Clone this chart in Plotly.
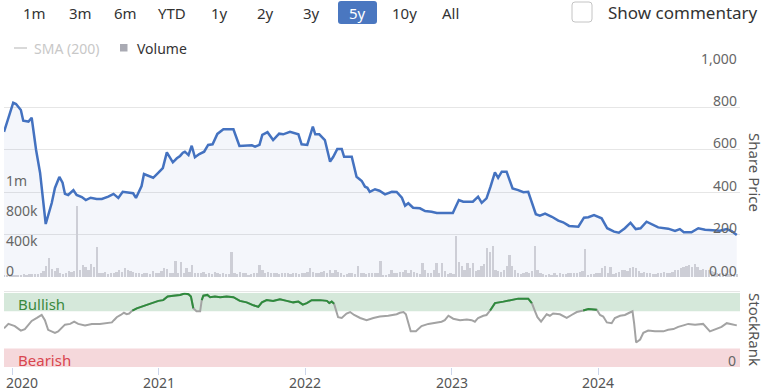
import plotly.graph_objects as go
import pandas as pd

# ---------------- data ----------------
price_dates = ["2019-12-12","2020-01-04","2020-01-11","2020-01-23","2020-01-29","2020-02-11","2020-02-19","2020-03-01","2020-03-11","2020-03-25",
"2020-04-09","2020-04-17","2020-04-28","2020-05-06","2020-05-12","2020-05-20","2020-06-02","2020-06-10","2020-06-23","2020-07-03",
"2020-07-15","2020-07-30","2020-08-12","2020-08-28","2020-09-10","2020-09-22","2020-10-03","2020-10-17","2020-10-29","2020-11-05",
"2020-11-19","2020-11-25","2020-12-06","2020-12-18","2020-12-31","2021-01-11","2021-01-21","2021-02-05","2021-02-15","2021-02-23",
"2021-03-02","2021-03-07","2021-03-16","2021-03-24","2021-04-01","2021-04-12","2021-04-24","2021-05-04","2021-05-15","2021-05-27",
"2021-06-11","2021-07-06","2021-07-21","2021-08-08","2021-08-21","2021-08-29","2021-09-09","2021-09-16","2021-09-29","2021-10-13",
"2021-10-28","2021-11-07","2021-11-24","2021-12-15","2021-12-23","2022-01-06","2022-01-20","2022-01-26","2022-02-05","2022-02-19",
"2022-03-04","2022-03-12","2022-03-22","2022-04-02","2022-04-08","2022-04-27","2022-05-09","2022-05-22","2022-05-30","2022-06-05",
"2022-06-11","2022-06-24","2022-07-05","2022-07-19","2022-08-05","2022-08-17","2022-08-30","2022-09-07","2022-09-15","2022-09-27",
"2022-10-14","2022-10-27","2022-11-12","2022-11-25","2023-01-04","2023-01-19","2023-01-30","2023-02-23","2023-03-08","2023-03-17",
"2023-03-29","2023-04-08","2023-04-19","2023-04-27","2023-05-06","2023-05-18","2023-06-02","2023-06-16","2023-06-29","2023-07-11",
"2023-07-30","2023-08-09","2023-08-22","2023-09-08","2023-09-24","2023-10-06","2023-10-21","2023-11-13","2023-11-27","2023-12-08",
"2023-12-22","2024-01-10","2024-01-24","2024-02-10","2024-02-22","2024-03-08","2024-03-22","2024-04-04","2024-04-16","2024-05-01",
"2024-05-14","2024-05-30","2024-06-24","2024-07-11","2024-07-23","2024-08-02","2024-08-21","2024-09-07","2024-09-24","2024-10-14",
"2024-10-31","2024-11-17","2024-11-29","2024-12-12"]
share_price = [685,822,816,788,737,733,751,599,491,250,
349,420,472,445,392,387,410,387,377,363,
374,368,368,379,392,373,402,400,395,373,
429,486,476,468,492,514,588,541,560,571,
586,591,575,619,565,580,591,623,626,675,
697,697,618,618,621,615,623,670,683,646,
676,673,685,673,626,623,709,673,673,646,
544,567,604,604,567,567,473,453,426,421,
402,414,407,390,402,401,374,336,348,327,
324,311,308,302,302,363,355,355,379,350,
371,426,494,468,497,497,418,410,400,402,
296,289,299,284,266,258,241,237,280,282,
292,277,230,214,209,230,256,226,230,261,
249,234,228,217,226,211,211,230,223,222,
218,226,217,198]

volume_start = "2019-12-13"   # weekly bars
volume_k = [20,15,25,20,30,25,30,35,30,40,
35,40,45,60,80,150,253,110,84,120,
50,45,60,80,70,80,947,90,160,140,
100,180,140,400,60,50,70,40,50,60,
70,90,70,120,100,80,70,60,50,40,
60,50,40,80,50,60,80,120,110,60,
60,213,50,200,60,120,70,160,60,50,
50,70,40,60,45,70,60,40,50,40,
45,330,60,40,70,50,60,30,40,50,
50,160,90,60,70,50,60,50,40,60,
50,60,40,50,60,40,50,60,70,124,
70,60,50,70,80,60,90,60,100,70,
50,30,40,50,60,40,150,60,50,40,
50,60,50,60,213,20,30,40,90,50,
60,70,70,90,60,100,70,50,40,183,
100,50,60,100,183,60,183,80,40,50,
40,551,200,150,100,190,120,190,80,100,
150,170,383,330,413,100,80,70,100,150,
293,150,90,50,40,60,70,60,80,413,
90,60,40,30,40,30,50,30,60,40,
40,60,50,60,50,70,80,369,30,40,
40,60,50,120,150,60,140,40,60,70,
100,100,80,120,140,120,80,60,70,50,
60,40,40,50,60,70,50,60,70,90,
100,120,140,150,160,130,170,140,100,110,
100,90,80,70,60,60,50,50,40,40,
30,40]

sr_dates = ["2019-12-12","2019-12-23","2020-01-08","2020-01-23","2020-02-02","2020-02-19","2020-03-03","2020-03-15","2020-03-23","2020-03-31",
"2020-04-17","2020-04-25","2020-05-12","2020-05-25","2020-06-04","2020-06-14","2020-07-01","2020-07-18","2020-08-07","2020-08-24",
"2020-09-06","2020-09-11","2020-09-18","2020-09-28","2020-10-06","2020-10-13","2020-10-19","2020-10-27","2020-11-07","2020-11-23",
"2020-12-10","2020-12-20","2020-12-31","2021-01-12","2021-01-23","2021-02-06","2021-02-23","2021-03-06","2021-03-16","2021-03-22",
"2021-03-28","2021-04-05","2021-04-14","2021-04-18","2021-04-22","2021-05-02","2021-05-09","2021-05-21","2021-06-03","2021-06-19",
"2021-07-06","2021-07-22","2021-08-08","2021-08-25","2021-09-06","2021-09-15","2021-09-27","2021-10-13","2021-10-30","2021-11-16",
"2021-12-02","2021-12-15","2021-12-26","2022-01-05","2022-01-17","2022-02-07","2022-02-24","2022-03-02","2022-03-08","2022-03-14",
"2022-03-20","2022-03-24","2022-04-02","2022-04-14","2022-04-23","2022-05-03","2022-05-18","2022-06-03","2022-06-20","2022-07-06",
"2022-07-27","2022-08-17","2022-08-25","2022-09-03","2022-09-09","2022-09-21","2022-10-04","2022-10-18","2022-11-04","2022-11-21",
"2022-12-07","2022-12-15","2022-12-24","2023-01-05","2023-01-22","2023-02-08","2023-02-20","2023-02-28","2023-03-08","2023-03-21",
"2023-03-29","2023-04-07","2023-04-19","2023-05-10","2023-05-31","2023-06-16","2023-07-11","2023-07-20","2023-07-28","2023-08-03",
"2023-08-12","2023-08-26","2023-09-03","2023-09-11","2023-09-28","2023-10-15","2023-10-27","2023-11-09","2023-11-25","2023-12-08",
"2023-12-29","2024-01-06","2024-01-14","2024-01-23","2024-02-04","2024-02-12","2024-02-25","2024-03-08","2024-03-19","2024-03-27",
"2024-03-31","2024-04-05","2024-04-15","2024-04-23","2024-05-05","2024-05-22","2024-06-12","2024-06-24","2024-07-07","2024-07-19",
"2024-08-01","2024-08-13","2024-08-30","2024-09-19","2024-10-06","2024-10-23","2024-11-04","2024-11-17","2024-11-29","2024-12-12"]
stockrank = [52,58,55,49,51,62,66,70,63,50,
46,48,57,58,61,58,56,58,58,59,
60,63,67,70,73,71,72,76,79,82,
85,87,89,90,95,96,97,99,98,95,
79,75,75,90,96,97,94,95,94,95,
94,89,87,83,81,87,90,89,91,89,
87,88,84,86,90,90,89,86,88,85,
72,67,66,72,74,70,66,63,66,68,
69,71,73,74,71,48,48,55,58,60,
61,63,69,65,63,64,63,61,66,69,
70,76,86,88,90,92,92,86,75,67,
61,71,69,72,71,66,70,74,76,78,
77,70,68,60,59,66,69,70,73,75,
59,33,37,46,49,48,48,50,51,54,
56,58,57,58,48,51,54,59,58,56]

x_range = ["2019-12-12", "2024-12-20"]
year_ticks = ["2020-01-01", "2021-01-01", "2022-01-01", "2023-01-01", "2024-01-01"]
year_labels = ["2020", "2021", "2022", "2023", "2024"]
price_tickvals = [0, 200, 400, 600, 800, 1000]
price_ticktext = ["0.00", "200", "400", "600", "800", "1,000"]
volume_tickvals = [0, 400000, 800000, 1200000]
volume_ticktext = ["0", "400k", "800k", "1m"]
range_buttons = ["1m", "3m", "6m", "YTD", "1y", "2y", "3y", "5y", "10y", "All"]
bullish_level = 75

assert len(price_dates) == len(share_price)
assert len(sr_dates) == len(stockrank)

# ---------------- geometry helpers ----------------
W_TOT, H_TOT = 770, 391
ML, MR, MT, MB = 4, 30, 65, 24
PW, PH = W_TOT - ML - MR, H_TOT - MT - MB


def px_x(px):
    return (px - ML) / PW


def px_y(py):
    return (H_TOT - MB - py) / PH


FONT = "Noto Sans"
PRICE_COLOR = "#4472c0"
TICK_COLOR = "#666666"

vol_dates = pd.date_range(volume_start, periods=len(volume_k), freq="7D")
vol_vals = [v * 1000 for v in volume_k]

fig = go.Figure()
fig.add_trace(go.Scatter(x=price_dates, y=share_price, mode="lines",
                         line=dict(color=PRICE_COLOR, width=2.5),
                         fill="tozeroy", fillcolor="rgba(70,110,190,0.06)",
                         xaxis="x", yaxis="y", hoverinfo="skip"))
fig.add_trace(go.Bar(x=vol_dates, y=vol_vals, width=4.5 * 86400000,
                     marker=dict(color="#cdced6", line=dict(width=0)),
                     xaxis="x", yaxis="y3", hoverinfo="skip"))
fig.add_trace(go.Scatter(x=sr_dates, y=stockrank, mode="lines",
                         line=dict(color="#a3a3a3", width=2),
                         xaxis="x2", yaxis="y2", hoverinfo="skip"))
fig.add_trace(go.Scatter(x=sr_dates, y=[v if v > bullish_level else None for v in stockrank],
                         mode="lines", connectgaps=False,
                         line=dict(color="#2e8b3c", width=2),
                         xaxis="x2", yaxis="y2", hoverinfo="skip"))

main_bottom = px_y(277)
rank_top = px_y(292.7)

shapes = [
    dict(type="rect", xref="paper", yref="y2", x0=0, x1=1, y0=75, y1=100,
         fillcolor="#d5e8da", line=dict(width=0), layer="below"),
    dict(type="rect", xref="paper", yref="y2", x0=0, x1=1, y0=0, y1=25,
         fillcolor="#f5d8db", line=dict(width=0), layer="below"),
    dict(type="line", xref="paper", yref="paper", x0=0, x1=1,
         y0=px_y(291.5), y1=px_y(291.5), line=dict(color="#e6e6e6", width=1)),
]


def rounded_rect(x0, y0, x1, y1, r):
    X0, X1 = px_x(x0), px_x(x1)
    Y0, Y1 = px_y(y0), px_y(y1)
    rx, ry = r / PW, r / PH
    return (f"M {X0+rx},{Y0} L {X1-rx},{Y0} Q {X1},{Y0} {X1},{Y0-ry} "
            f"L {X1},{Y1+ry} Q {X1},{Y1} {X1-rx},{Y1} L {X0+rx},{Y1} "
            f"Q {X0},{Y1} {X0},{Y1+ry} L {X0},{Y0-ry} Q {X0},{Y0} {X0+rx},{Y0} Z")


shapes.append(dict(type="path", xref="paper", yref="paper",
                   path=rounded_rect(338, 1, 377, 24, 3),
                   fillcolor="#4a77c0", line=dict(width=0)))
shapes.append(dict(type="path", xref="paper", yref="paper",
                   path=rounded_rect(572, 2, 592, 22, 3),
                   fillcolor="white", line=dict(color="#c4c4c4", width=1)))
shapes.append(dict(type="line", xref="paper", yref="paper",
                   x0=px_x(14), x1=px_x(27), y0=px_y(48), y1=px_y(48),
                   line=dict(color="#cccccc", width=1.5)))
shapes.append(dict(type="rect", xref="paper", yref="paper",
                   x0=px_x(120), x1=px_x(127.5), y0=px_y(51.5), y1=px_y(44),
                   fillcolor="#a9aab3", line=dict(width=0)))

annotations = []
btn_x = [34, 80, 126, 172, 219, 265, 311, 357, 404, 450]
for lbl, bx in zip(range_buttons, btn_x):
    annotations.append(dict(text=lbl, x=px_x(bx), y=px_y(12.5), xref="paper", yref="paper",
                            showarrow=False, xanchor="center", yanchor="middle",
                            font=dict(family=FONT, size=15,
                                      color="white" if lbl == "5y" else "#333333")))
annotations.append(dict(text="Show commentary", x=px_x(606), y=px_y(12.5), xref="paper", yref="paper",
                        showarrow=False, xanchor="left", yanchor="middle",
                        font=dict(family=FONT, size=17, color="#333333")))
annotations.append(dict(text="SMA (200)", x=px_x(32), y=px_y(48), xref="paper", yref="paper",
                        showarrow=False, xanchor="left", yanchor="middle",
                        font=dict(family=FONT, size=14, color="#c8c8c8")))
annotations.append(dict(text="Volume", x=px_x(135), y=px_y(48), xref="paper", yref="paper",
                        showarrow=False, xanchor="left", yanchor="middle",
                        font=dict(family=FONT, size=14, color="#333333")))
annotations.append(dict(text="Share Price", x=px_x(755), y=px_y(172), xref="paper", yref="paper",
                        showarrow=False, textangle=90, xanchor="center", yanchor="middle",
                        font=dict(family=FONT, size=15, color="#555555")))
annotations.append(dict(text="StockRank", x=px_x(755), y=px_y(329), xref="paper", yref="paper",
                        showarrow=False, textangle=90, xanchor="center", yanchor="middle",
                        font=dict(family=FONT, size=15, color="#555555")))
annotations.append(dict(text="Bullish", x=px_x(16), y=px_y(303.5), xref="paper", yref="paper",
                        showarrow=False, xanchor="left", yanchor="middle",
                        font=dict(family=FONT, size=15, color="#3a8a3e")))
annotations.append(dict(text="Bearish", x=px_x(16), y=px_y(360), xref="paper", yref="paper",
                        showarrow=False, xanchor="left", yanchor="middle",
                        font=dict(family=FONT, size=15, color="#d9454f")))
annotations.append(dict(text="0", x=px_x(738), y=px_y(360), xref="paper", yref="paper",
                        showarrow=False, xanchor="right", yanchor="middle",
                        font=dict(family=FONT, size=14, color=TICK_COLOR)))
# axis tick labels drawn above their gridlines (Highcharts style)
for tv, tt in zip(price_tickvals, price_ticktext):
    annotations.append(dict(text=tt, x=1, xref="paper", y=tv, yref="y",
                            xanchor="right", yanchor="middle", yshift=7, xshift=-1,
                            showarrow=False, font=dict(family=FONT, size=14, color=TICK_COLOR)))
for tv, tt in zip(volume_tickvals, volume_ticktext):
    annotations.append(dict(text=tt, x=0, xref="paper", y=tv, yref="y3",
                            xanchor="left", yanchor="middle", yshift=7, xshift=0,
                            showarrow=False, font=dict(family=FONT, size=14, color=TICK_COLOR)))
for i, (tv, tl) in enumerate(zip(year_ticks, year_labels)):
    annotations.append(dict(text=tl, x=tv, xref="x2", y=px_y(382), yref="paper",
                            showarrow=False, xanchor="center", yanchor="middle",
                            xshift=10 if i == 0 else 0,
                            font=dict(family=FONT, size=14, color="#555555")))

fig.update_layout(
    width=W_TOT, height=H_TOT,
    margin=dict(l=ML, r=MR, t=MT, b=MB, pad=0),
    paper_bgcolor="white", plot_bgcolor="white",
    showlegend=False, bargap=0,
    font=dict(family=FONT, color=TICK_COLOR),
    xaxis=dict(domain=[0, 1], range=x_range, type="date", anchor="y",
               showticklabels=False, showgrid=False, zeroline=False, showline=False, ticks=""),
    xaxis2=dict(domain=[0, 1], range=x_range, type="date", anchor="y2",
                tickvals=year_ticks, showticklabels=False, ticks="outside",
                ticklen=7, tickcolor="#ccd6eb", tickwidth=1,
                showgrid=False, zeroline=False, showline=False),
    yaxis=dict(domain=[main_bottom, 1], range=[0, 1000], side="right", anchor="x",
               tickvals=price_tickvals, showticklabels=False,
               gridcolor="#e6e6e6", gridwidth=1, zeroline=False, showline=False, ticks=""),
    yaxis2=dict(domain=[0, rank_top], range=[0, 100], anchor="x2",
                showticklabels=False, showgrid=False, zeroline=False, showline=False, ticks=""),
    yaxis3=dict(overlaying="y", side="left", anchor="x", range=[0, 2826667],
                tickvals=volume_tickvals, showticklabels=False,
                showgrid=False, zeroline=False, showline=False, ticks=""),
    shapes=shapes, annotations=annotations,
)

fig.write_html("out.html", config={"displayModeBar": False},
               post_script="document.body.style.margin='0';document.body.style.padding='0';")
